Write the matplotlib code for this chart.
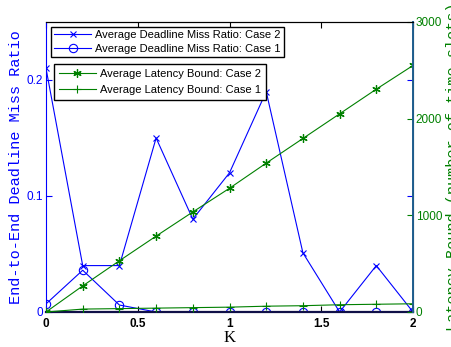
import numpy as np
import matplotlib
matplotlib.use('Agg')
import matplotlib.pyplot as plt

# K values and series
k = [0, 0.2, 0.4, 0.6, 0.8, 1.0, 1.2, 1.4, 1.6, 1.8, 2.0]
miss_case2 = [0.21, 0.040, 0.040, 0.150, 0.080, 0.120, 0.190, 0.051, 0.0, 0.040, 0.0]
miss_case1 = [0.007, 0.036, 0.006, 0.0, 0.0, 0.0, 0.0, 0.0, 0.0, 0.0, 0.0]
lat_case2 = [0, 270, 530, 785, 1035, 1280, 1540, 1795, 2050, 2305, 2550]
lat_case1 = [0, 30, 35, 40, 45, 50, 60, 65, 75, 80, 85]

blue = (0, 0, 1)
green = (0, 0.5, 0)
mono = 'Liberation Mono'
sans = 'Liberation Sans'

fig = plt.figure(figsize=(4.52, 3.47), dpi=100)
ax = fig.add_axes([0.1018, 0.1009, 0.8119, 0.8357])
ax2 = ax.twinx()

l1, = ax.plot(k, miss_case2, color=blue, lw=0.8, marker='x', ms=5, mew=0.8,
              label='Average Deadline Miss Ratio: Case 2')
l2, = ax.plot(k, miss_case1, color=blue, lw=0.8, marker='o', ms=6, mew=0.8,
              mfc='none', label='Average Deadline Miss Ratio: Case 1')
l3, = ax2.plot(k, lat_case2, color=green, lw=0.8, marker=(6, 2, 0), ms=6, mew=0.9,
               label='Average Latency Bound: Case 2')
l4, = ax2.plot(k, lat_case1, color=green, lw=0.8, marker='+', ms=6, mew=0.8,
               label='Average Latency Bound: Case 1')

ax.set_xlim(0, 2)
ax.set_ylim(0, 0.25)
ax2.set_ylim(0, 3000)
ax.set_xticks([0, 0.5, 1, 1.5, 2])
ax.set_xticklabels(['0', '0.5', '1', '1.5', '2'], fontweight='bold', fontfamily=sans)
ax.set_yticks([0, 0.1, 0.2])
ax.set_yticklabels(['0', '0.1', '0.2'], fontfamily=sans)
ax2.set_yticks([0, 1000, 2000, 3000])
ax2.set_yticklabels(['0', '1000', '2000', '3000'], fontfamily=sans)

ax.tick_params(axis='x', direction='in', top=True, labelsize=8.5, colors='black',
               length=4, width=0.8, pad=4)
ax.tick_params(axis='y', direction='in', right=True, labelsize=8.5, colors=blue,
               labelcolor=blue, length=4, width=0.8, pad=2)
ax2.tick_params(axis='y', direction='in', labelsize=8.5, colors=green,
                labelcolor=green, length=4, width=0.8, pad=2)

ax.spines['left'].set_color(blue)
ax.spines['bottom'].set_color('#101048')
ax.spines['bottom'].set_linewidth(1.6)
ax2.spines['bottom'].set_visible(False)
ax2.spines['left'].set_visible(False)
ax2.spines['right'].set_color('#1f5f8f')
ax2.spines['right'].set_linewidth(1.4)

ax.set_xlabel('K', fontfamily='Liberation Serif', fontsize=12, labelpad=0)
ax.set_ylabel('End-to-End Deadline Miss Ratio', color=blue, fontfamily=mono,
              fontsize=11, labelpad=3)
ax2.set_ylabel('Latency Bound (number of time slots)', color=green,
               fontfamily=mono, fontsize=11, labelpad=3)

leg1 = ax2.legend(handles=[l1, l2], loc='upper left',
                  bbox_to_anchor=(51 / 452, 1 - 27 / 347), bbox_transform=fig.transFigure,
                  prop={'family': sans, 'size': 8}, fancybox=False, framealpha=1,
                  edgecolor='black', handlelength=3.3, handletextpad=0.4,
                  borderpad=0.3, labelspacing=0.3, borderaxespad=0)
leg1.get_frame().set_linewidth(1.0)
ax2.add_artist(leg1)
leg2 = ax2.legend(handles=[l3, l4], loc='upper left',
                  bbox_to_anchor=(54 / 452, 1 - 64 / 347), bbox_transform=fig.transFigure,
                  prop={'family': sans, 'size': 8}, fancybox=False, framealpha=1,
                  edgecolor='black', handlelength=3.3, handletextpad=0.4,
                  borderpad=0.45, labelspacing=0.5, borderaxespad=0)
leg2.get_frame().set_linewidth(1.0)

fig.savefig('out.png', dpi=100)
